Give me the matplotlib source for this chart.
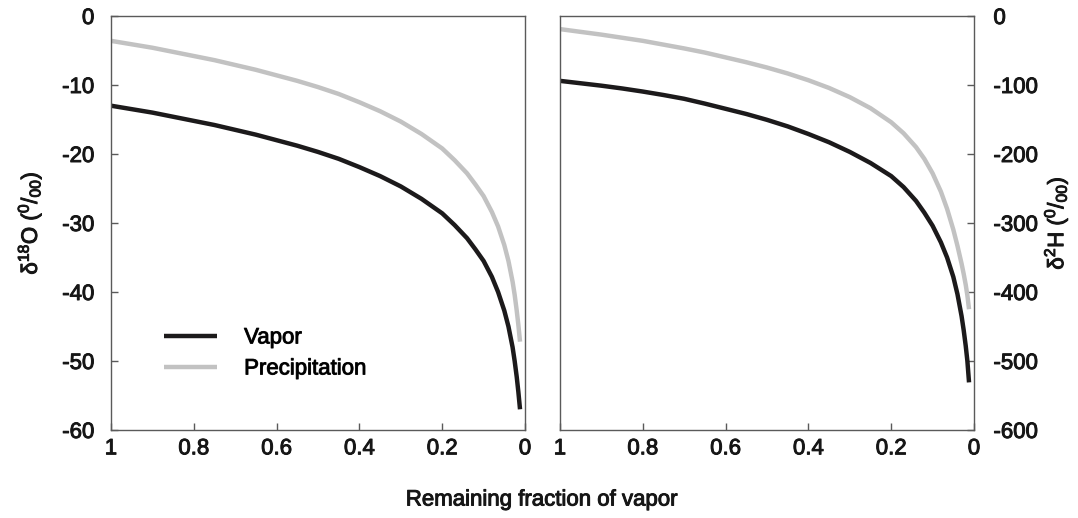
import matplotlib
matplotlib.use("Agg")
import matplotlib.pyplot as plt
import matplotlib.patheffects as pe

plt.rcParams['font.family'] = ['Liberation Sans', 'DejaVu Sans']
plt.rcParams['mathtext.fontset'] = 'custom'
plt.rcParams['mathtext.rm'] = 'Liberation Sans'
plt.rcParams['mathtext.it'] = 'Liberation Sans:italic'
plt.rcParams['axes.unicode_minus'] = False

# remaining fraction of vapor
frac = [1.0, 0.95, 0.9, 0.85, 0.8, 0.75, 0.7, 0.65, 0.6, 0.55, 0.5, 0.45, 0.4, 0.35,
        0.3, 0.25, 0.2, 0.17, 0.14, 0.12, 0.1, 0.08, 0.065, 0.05, 0.04, 0.03, 0.025,
        0.02, 0.016, 0.012]

# delta 18O (permil)
o18_vapor = [-13.0, -13.5, -14.0, -14.6, -15.2, -15.8, -16.5, -17.2, -18.0, -18.8,
             -19.7, -20.7, -21.9, -23.2, -24.7, -26.5, -28.6, -30.3, -32.2, -33.8,
             -35.5, -37.8, -40.0, -42.7, -45.0, -48.0, -50.0, -52.3, -54.5, -57.0]
o18_precip = [-3.6, -4.1, -4.6, -5.2, -5.8, -6.4, -7.1, -7.8, -8.6, -9.4,
              -10.3, -11.3, -12.5, -13.8, -15.3, -17.1, -19.2, -20.9, -22.8, -24.4,
              -26.1, -28.4, -30.5, -33.2, -35.5, -38.5, -40.4, -42.7, -44.8, -47.2]

# delta 2H (permil)
h2_vapor = [-94, -97.5, -101, -105, -109.5, -114.5, -120, -127, -134.5, -142,
            -150.5, -160, -171, -183, -197, -213, -232, -248, -268, -285,
            -304, -328, -350, -378, -403, -435, -455, -478, -500, -531]
h2_precip = [-19, -23, -27, -31.5, -36, -41.5, -47, -53, -60, -67,
             -74.7, -83.3, -93.1, -104.3, -117.6, -133.6, -154, -170, -190, -207,
             -228, -254.5, -279.5, -309.5, -333, -359, -373.5, -389.5, -405, -425]

x_ticks = [1, 0.8, 0.6, 0.4, 0.2, 0]
x_ticklabels = ['1', '0.8', '0.6', '0.4', '0.2', '0']

black = '#1c1a1b'
grey = '#c2c2c2'
spine_c = '#5a5a5a'
txt_c = '#161616'
fs = 16
thick = [pe.withStroke(linewidth=0.7, foreground=txt_c)]

fig = plt.figure(figsize=(10.78, 5.18), dpi=100)
ax1 = fig.add_axes([111/1078, 88/518, 414/1078, 414/518])
ax2 = fig.add_axes([560/1078, 88/518, 414/1078, 414/518])

ax1.plot(frac, o18_vapor, color=black, lw=3.2, label='Vapor', solid_capstyle='butt')
ax1.plot(frac, o18_precip, color=grey, lw=3.2, label='Precipitation', solid_capstyle='butt')
ax2.plot(frac, h2_vapor, color=black, lw=3.2, solid_capstyle='butt')
ax2.plot(frac, h2_precip, color=grey, lw=3.2, solid_capstyle='butt')

ax1.set_ylim(-60, 0)
ax1.set_yticks(range(-60, 1, 10))
ax2.set_ylim(-600, 0)
ax2.set_yticks(range(-600, 1, 100))

for ax in (ax1, ax2):
    ax.set_xlim(1, 0)
    ax.set_xticks(x_ticks)
    ax.set_xticklabels(x_ticklabels)
    for s in ax.spines.values():
        s.set_color(spine_c)
        s.set_linewidth(1.0)
    ax.tick_params(direction='in', length=5, width=1, color=spine_c,
                   labelsize=fs, labelcolor=txt_c)
    ax.tick_params(axis='x', pad=6)

ax1.tick_params(axis='y', pad=12)
ax2.yaxis.tick_right()
ax2.tick_params(axis='y', pad=14)

ax1.set_ylabel('δ$^{18}$O ($^{0}/_{00}$)', fontsize=fs, labelpad=12, color=txt_c)
ax2.yaxis.set_label_position('right')
ax2.set_ylabel('δ$^{2}$H ($^{0}/_{00}$)', fontsize=fs, labelpad=2, rotation=90,
               color=txt_c)

fig.text(542/1078, 1 - 500/518, 'Remaining fraction of vapor', fontsize=fs,
         ha='center', va='center', color=txt_c)

leg = ax1.legend(loc='center left', bbox_to_anchor=(0.08, 0.185), frameon=False,
                 fontsize=fs, handlelength=2.4, handletextpad=1.2, labelspacing=0.45)

for t in fig.findobj(matplotlib.text.Text):
    t.set_path_effects(thick)

fig.savefig('out.png', dpi=100)
